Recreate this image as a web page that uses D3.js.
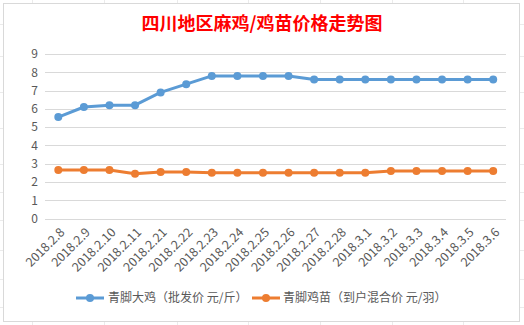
<!DOCTYPE html>
<html><head><meta charset="utf-8">
<script src="https://cdn.jsdelivr.net/npm/d3@7"></script>
<style>body{margin:0;background:#fff}svg{display:block}</style>
</head><body>
<script>
const categories = ["2018.2.8","2018.2.9","2018.2.10","2018.2.11","2018.2.21","2018.2.22","2018.2.23","2018.2.24","2018.2.25","2018.2.26","2018.2.27","2018.2.28","2018.3.1","2018.3.2","2018.3.3","2018.3.4","2018.3.5","2018.3.6"];
const chickenPrice = [5.55,6.1,6.2,6.2,6.9,7.35,7.8,7.8,7.8,7.8,7.6,7.6,7.6,7.6,7.6,7.6,7.6,7.6];
const chickPrice = [2.65,2.65,2.65,2.45,2.55,2.55,2.5,2.5,2.5,2.5,2.5,2.5,2.5,2.6,2.6,2.6,2.6,2.6];
const seriesNames = ["青脚大鸡（批发价 元/斤）","青脚鸡苗（到户混合价 元/羽）"];
const yTicks = [0,1,2,3,4,5,6,7,8,9];
const title = "四川地区麻鸡/鸡苗价格走势图";

const W=524,H=325;
const svg=d3.select("body").append("svg").attr("width",W).attr("height",H);
const font="'Noto Sans CJK SC','Microsoft YaHei',sans-serif";

// spreadsheet background grid
const bg=svg.append("g").attr("stroke","#ebebeb").attr("stroke-width",1);
[32,104,177,248,320,392,463].forEach(x=>bg.append("line").attr("x1",x+.5).attr("x2",x+.5).attr("y1",0).attr("y2",H));
[24,56,92,128,164,192,220,250,279,307].forEach(y=>bg.append("line").attr("x1",0).attr("x2",W).attr("y1",y+.5).attr("y2",y+.5));
svg.append("rect").attr("x",3.5).attr("y",3.5).attr("width",516).attr("height",318).attr("fill","#fff").attr("stroke","#d9d9d9");

svg.append("text").attr("x",262).attr("y",30).attr("text-anchor","middle").attr("fill","#ff0000")
  .attr("font-family",font).attr("font-weight","bold").attr("font-size",18).text(title);

const x=d3.scaleBand().domain(categories).range([45.5,506]);
const y=d3.scaleLinear().domain([0,9]).range([218.5,54]);

const grid=svg.append("g");
yTicks.forEach(t=>{
  grid.append("line").attr("x1",45).attr("x2",506).attr("y1",Math.round(y(t))+.5).attr("y2",Math.round(y(t))+.5).attr("stroke","#d9d9d9");
});
const ya=svg.append("g").attr("transform","translate(45,0)")
  .call(d3.axisLeft(y).tickValues(yTicks).tickSize(0).tickPadding(7));
ya.select(".domain").remove();
ya.selectAll("text").attr("font-family",font).attr("font-size",12).attr("fill","#595959");

const xa=svg.append("g").attr("transform","translate(0,219)")
  .call(d3.axisBottom(x).tickSize(0));
xa.select(".domain").remove();
xa.selectAll("text").attr("font-family",font).attr("font-size",12.5).attr("fill","#595959")
  .attr("text-anchor","end").attr("dy",0)
  .attr("transform","translate(5,12) rotate(-45)");

const cx=d=>x(d)+x.bandwidth()/2;
const colors=["#5b9bd5","#ed7d31"];
[chickenPrice,chickPrice].forEach((vals,i)=>{
  const line=d3.line().x((d,j)=>cx(categories[j])).y(d=>y(d));
  svg.append("path").datum(vals).attr("d",line).attr("fill","none").attr("stroke",colors[i]).attr("stroke-width",3).attr("stroke-linejoin","round");
  svg.append("g").selectAll("circle").data(vals).join("circle")
    .attr("cx",(d,j)=>cx(categories[j])).attr("cy",d=>y(d)).attr("r",4).attr("fill",colors[i]);
});

// legend
const lg=[{x:76,tx:108},{x:252,tx:283}];
seriesNames.forEach((n,i)=>{
  const g=svg.append("g");
  g.append("line").attr("x1",lg[i].x).attr("x2",lg[i].x+28).attr("y1",298).attr("y2",298).attr("stroke",colors[i]).attr("stroke-width",3);
  g.append("circle").attr("cx",lg[i].x+14).attr("cy",298).attr("r",4).attr("fill",colors[i]);
  g.append("text").attr("x",lg[i].tx).attr("y",302).attr("font-family",font).attr("font-size",12).attr("fill","#595959").text(n);
});
</script>
</body></html>
